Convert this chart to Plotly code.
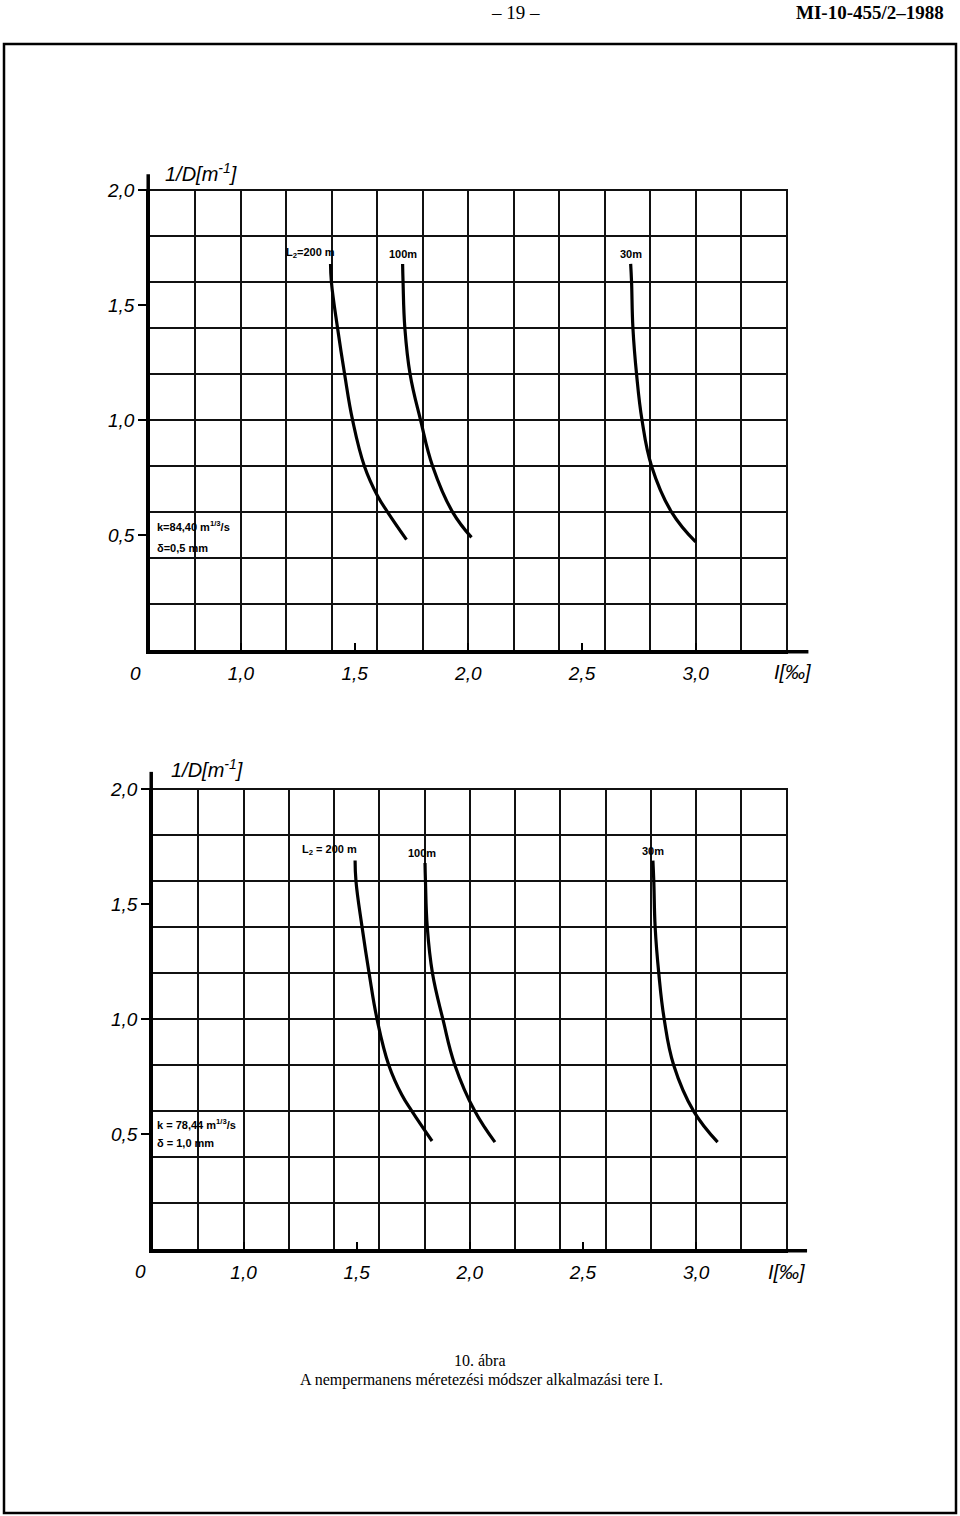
import plotly.graph_objects as go

W, H = 960, 1516

# ---------------- data ----------------
# Chart 1 (k = 84,40 m^1/3/s, delta = 0,5 mm)
c1_I_200 = [1.394, 1.398, 1.425, 1.456, 1.491, 1.543, 1.601, 1.645, 1.728]
c1_D_200 = [1.68, 1.60, 1.40, 1.20, 1.00, 0.80, 0.67, 0.60, 0.48]
c1_I_100 = [1.711, 1.713, 1.721, 1.744, 1.790, 1.843, 1.931, 2.014]
c1_D_100 = [1.68, 1.60, 1.40, 1.20, 1.00, 0.80, 0.60, 0.49]
c1_I_30 = [2.714, 2.718, 2.724, 2.740, 2.764, 2.806, 2.894, 3.000]
c1_D_30 = [1.68, 1.60, 1.40, 1.20, 1.00, 0.80, 0.60, 0.47]

# Chart 2 (k = 78,44 m^1/3/s, delta = 1,0 mm)
c2_I_200 = [1.493, 1.497, 1.524, 1.555, 1.590, 1.642, 1.700, 1.744, 1.833]
c2_D_200 = [1.69, 1.60, 1.40, 1.20, 1.00, 0.80, 0.67, 0.60, 0.47]
c2_I_100 = [1.802, 1.804, 1.812, 1.835, 1.881, 1.934, 2.022, 2.111]
c2_D_100 = [1.68, 1.60, 1.40, 1.20, 1.00, 0.80, 0.60, 0.465]
c2_I_30 = [2.809, 2.813, 2.819, 2.835, 2.859, 2.901, 2.989, 3.095]
c2_D_30 = [1.69, 1.60, 1.40, 1.20, 1.00, 0.80, 0.60, 0.465]

x_tickvals = [1.0, 1.5, 2.0, 2.5, 3.0]
x_ticktext = ["1,0", "1,5", "2,0", "2,5", "3,0"]
y_tickvals = [0.5, 1.0, 1.5, 2.0]
y_ticktext = ["0,5", "1,0", "1,5", "2,0"]
x_range = [0.6, 3.406]
y_range = [0.0, 2.006]

curve_labels_1 = ["L<sub>2</sub>=200 m", "100m", "30m"]
curve_labels_2 = ["L<sub>2</sub> = 200 m", "100m", "30m"]
param_1 = ["k=84,40 m<sup>1/3</sup>/s", "δ=0,5 mm"]
param_2 = ["k = 78,44 m<sup>1/3</sup>/s", "δ = 1,0 mm"]


def px(x):
    return x / W


def py(y):
    return 1 - y / H


fig = go.Figure()

curve_style = dict(mode="lines", line=dict(color="black", width=3.2, shape="spline", smoothing=1.2),
                   showlegend=False, hoverinfo="skip")

# empty traces register the grid subplots
fig.add_trace(go.Scatter(x=[], y=[], xaxis="x", yaxis="y", showlegend=False, hoverinfo="skip"))
fig.add_trace(go.Scatter(x=[], y=[], xaxis="x2", yaxis="y2", showlegend=False, hoverinfo="skip"))

for I, D in [(c1_I_200, c1_D_200), (c1_I_100, c1_D_100), (c1_I_30, c1_D_30)]:
    fig.add_trace(go.Scatter(x=I, y=D, xaxis="x3", yaxis="y3", **curve_style))
for I, D in [(c2_I_200, c2_D_200), (c2_I_100, c2_D_100), (c2_I_30, c2_D_30)]:
    fig.add_trace(go.Scatter(x=I, y=D, xaxis="x4", yaxis="y4", **curve_style))

tick_font = dict(family="Liberation Sans", size=19, color="black", style="italic")

dom1_x = [px(150), px(788)]
dom1_y = [py(650), py(189)]
dom2_x = [px(153), px(788)]
dom2_y = [py(1249), py(788)]

grid_x = dict(range=x_range, tickmode="linear", tick0=0, dtick=0.2, showgrid=True,
              gridcolor="#111", gridwidth=1.7, showticklabels=False, ticks="",
              zeroline=False, showline=False, fixedrange=True, automargin=False)
grid_y = dict(range=y_range, tickmode="linear", tick0=0, dtick=0.2, showgrid=True,
              gridcolor="#111", gridwidth=1.7, showticklabels=False, ticks="",
              zeroline=False, showline=False, fixedrange=True, automargin=False)
lab_x = dict(range=x_range, tickmode="array", tickvals=x_tickvals, ticktext=x_ticktext,
             ticks="inside", ticklen=7, tickwidth=2, tickcolor="black", showgrid=False,
             zeroline=False, showline=True, linecolor="black", linewidth=3.5,
             tickfont=tick_font, ticklabelstandoff=3, fixedrange=True, automargin=False)
lab_y = dict(range=y_range, tickmode="array", tickvals=y_tickvals, ticktext=y_ticktext,
             ticks="outside", ticklen=8, tickwidth=2, tickcolor="black", showgrid=False,
             zeroline=False, showline=True, linecolor="black", linewidth=3.5,
             tickfont=tick_font, ticklabelstandoff=0, fixedrange=True, automargin=False)

fig.update_layout(
    width=W, height=H, autosize=False,
    margin=dict(l=0, r=0, t=0, b=0, pad=0),
    paper_bgcolor="white", plot_bgcolor="rgba(0,0,0,0)",
    showlegend=False,
    xaxis=dict(domain=dom1_x, anchor="y", **grid_x),
    yaxis=dict(domain=dom1_y, anchor="x", **grid_y),
    xaxis2=dict(domain=dom2_x, anchor="y2", **grid_x),
    yaxis2=dict(domain=dom2_y, anchor="x2", **grid_y),
    xaxis3=dict(domain=dom1_x, overlaying="x", anchor="y3", side="bottom", **lab_x),
    yaxis3=dict(domain=dom1_y, overlaying="y", anchor="x3", side="left", **lab_y),
    xaxis4=dict(domain=dom2_x, overlaying="x2", anchor="y4", side="bottom", **lab_x),
    yaxis4=dict(domain=dom2_y, overlaying="y2", anchor="x4", side="left", **lab_y),
)

shapes = []
# page border
shapes.append(dict(type="rect", xref="paper", yref="paper", x0=px(4), x1=px(956),
                   y0=py(1513), y1=py(44), line=dict(color="black", width=2.5)))
# axis extensions (y above 2.0, x beyond last grid line)
for xa, ya, ext_y, ext_x in [("x3", "y3", 1.032, 1.032), ("x4", "y4", 1.035, 1.030)]:
    shapes.append(dict(type="line", xref=f"{xa} domain", yref=f"{ya} domain",
                       x0=-0.0028, x1=-0.0028, y0=0.99, y1=ext_y,
                       line=dict(color="black", width=3.5)))
    shapes.append(dict(type="line", xref=f"{xa} domain", yref=f"{ya} domain",
                       x0=0.99, x1=ext_x, y0=-0.0038, y1=-0.0038,
                       line=dict(color="black", width=3.5)))
fig.update_layout(shapes=shapes)

ann = []


def add_text(text, x, y, size, xanchor="center", family="Liberation Sans", bold=False,
             italic=False, xref="paper", yref="paper"):
    f = dict(family=family, size=size, color="black")
    if bold:
        f["weight"] = "bold"
    if italic:
        f["style"] = "italic"
    ann.append(dict(text=text, x=x, y=y, xref=xref, yref=yref, xanchor=xanchor,
                    yanchor="middle", showarrow=False, font=f))


# header
add_text("– 19 –", px(515), py(13), 19, family="Liberation Serif")
add_text("MI-10-455/2–1988", px(946), py(13), 19, xanchor="right",
         family="Liberation Serif", bold=True)

# chart axis titles and extra labels
add_text("1/D[m<sup>-1</sup>]", px(201), py(172), 20, italic=True)
add_text("1/D[m<sup>-1</sup>]", px(207), py(768), 20, italic=True)
add_text("0", px(135), py(673), 19, italic=True)
add_text("0", px(140), py(1271), 19, italic=True)
add_text("I[‰]", px(792), py(672), 20, italic=True)
add_text("I[‰]", px(786), py(1272), 20, italic=True)

# parameter boxes
add_text(param_1[0], px(155), py(526), 11, xanchor="left", bold=True)
add_text(param_1[1], px(155), py(548), 11, xanchor="left", bold=True)
add_text(param_2[0], px(155), py(1124), 11, xanchor="left", bold=True)
add_text(param_2[1], px(155), py(1143), 11, xanchor="left", bold=True)

# curve labels (anchored at the start of each curve)
starts_1 = [(c1_I_200[0], c1_D_200[0]), (c1_I_100[0], c1_D_100[0]), (c1_I_30[0], c1_D_30[0])]
starts_2 = [(c2_I_200[0], c2_D_200[0]), (c2_I_100[0], c2_D_100[0]), (c2_I_30[0], c2_D_30[0])]
for (lab, (sx, sy)), xa in zip(zip(curve_labels_1, starts_1), ["right", "center", "center"]):
    ann.append(dict(text=lab, x=sx, y=sy, xref="x3", yref="y3", xanchor=xa, yanchor="bottom",
                    xshift=6 if xa == "right" else 0, yshift=2, showarrow=False,
                    font=dict(family="Liberation Sans", size=11, color="black", weight="bold")))
for (lab, (sx, sy)), xa, xs in zip(zip(curve_labels_2, starts_2), ["right", "center", "center"],
                                    [4, -3, 0]):
    ann.append(dict(text=lab, x=sx, y=sy, xref="x4", yref="y4", xanchor=xa, yanchor="bottom",
                    xshift=xs, yshift=2, showarrow=False,
                    font=dict(family="Liberation Sans", size=11, color="black", weight="bold")))

# caption
add_text("10. ábra", px(480), py(1360), 16, family="Liberation Serif")
add_text("A nempermanens méretezési módszer alkalmazási tere I.", px(481), py(1380), 16,
         family="Liberation Serif")

fig.update_layout(annotations=ann)

fig.write_html("out.html")
